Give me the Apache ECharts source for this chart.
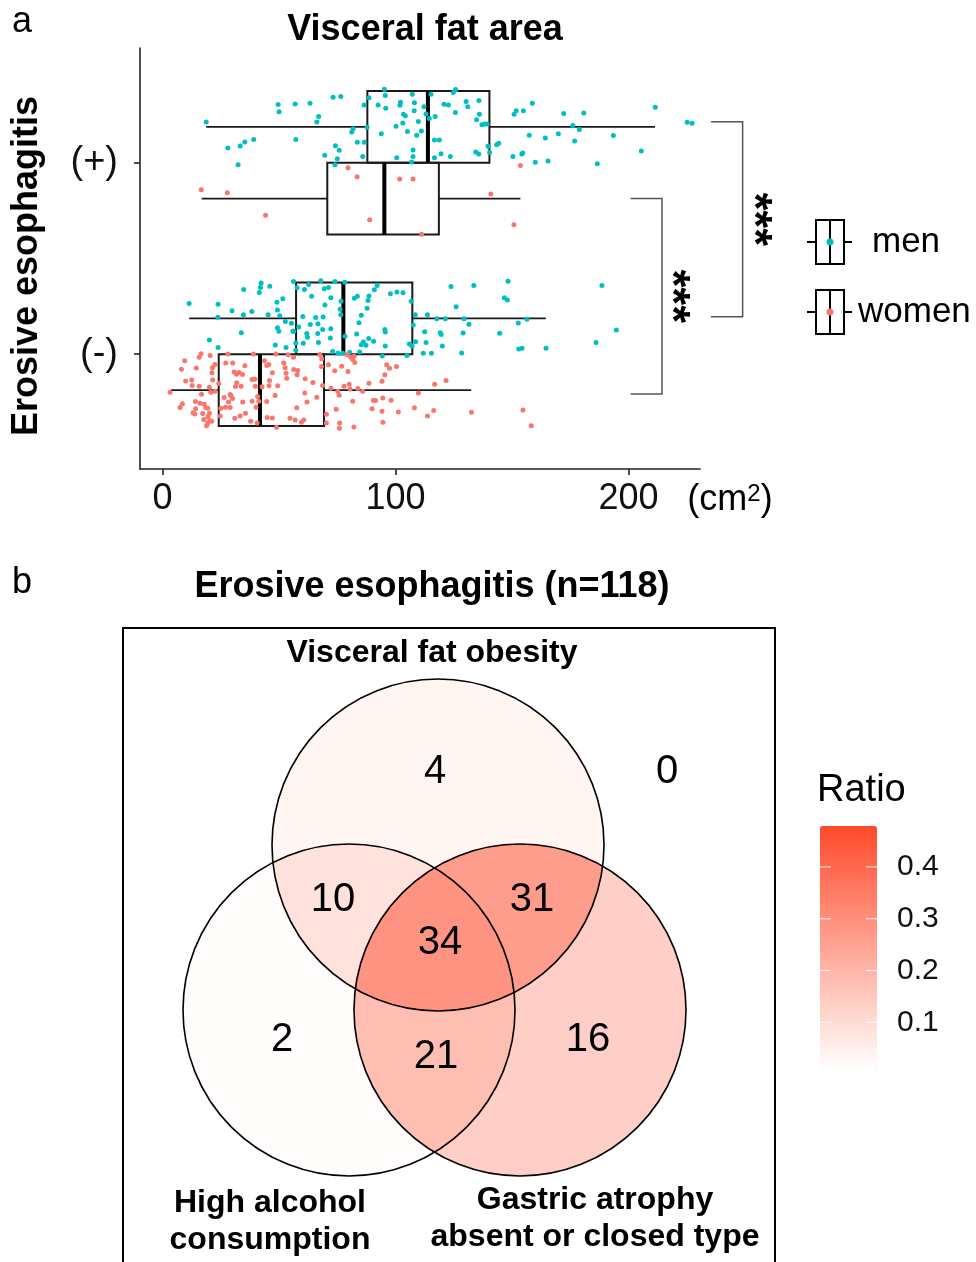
<!DOCTYPE html>
<html>
<head>
<meta charset="utf-8">
<script src="https://cdn.jsdelivr.net/npm/echarts@6/dist/echarts.min.js"></script>
<style>
  html, body { margin: 0; padding: 0; background: #fff; }
  #chart { width: 976px; height: 1262px; }
</style>
</head>
<body>
<div id="chart"></div>
<script>
const FONT = 'Liberation Sans, Arial, sans-serif';
const MEN_COLOR = '#00BFC4';
const WOMEN_COLOR = '#F8766D';

// ---- 图 a：内脏脂肪面积 ----
const categories = ['(-)', '(+)'];   // y = 1, 2
const catPos = [1, 2];
const dodge = 0.1875;
const xTicks = [0, 100, 200];

// [最小, Q1, 中位数, Q3, 最大]，顺序同 categories
const boxMen = [[11.4, 57.3, 77.6, 107.2, 164.5], [18.7, 87.9, 113.9, 140.3, 211.4]];
const boxWomen = [[3.6, 24.1, 41.8, 69.3, 132.5], [16.8, 70.7, 95.2, 118.6, 153.6]];

// 散点 [值, 抖动]
const menPos = [[18.7,0.026],[28.0,-0.110],[33.3,-0.099],[35.3,-0.079],[39.1,-0.065],[32.4,-0.197],[49.6,0.117],[50.0,0.079],[56.9,0.120],[63.3,0.124],[57.2,-0.065],[73.2,0.155],[76.5,0.159],[67.0,0.054],[66.2,0.026],[81.8,-0.009],[81.2,-0.026],[74.2,-0.098],[75.8,-0.122],[69.6,-0.148],[75.0,-0.166],[74.0,-0.197],[83.6,-0.080],[86.6,-0.080],[85.9,-0.154],[86.5,0.115],[88.6,0.153],[87.8,-0.002],[95.2,0.197],[95.6,0.164],[92.5,0.115],[95.8,0.098],[102.1,0.129],[101.9,0.113],[107.2,0.171],[108.1,0.126],[112.2,0.105],[108.0,0.084],[103.4,0.066],[104.2,0.058],[103.1,0.021],[100.2,0.004],[109.8,0.028],[111.1,-0.021],[105.1,-0.024],[109.1,-0.044],[93.9,-0.035],[107.5,-0.120],[107.5,-0.155],[106.9,-0.183],[100.5,-0.161],[113.1,0.068],[114.5,0.044],[117.0,0.054],[115.2,0.171],[120.8,0.119],[122.7,0.115],[116.7,-0.068],[118.8,-0.068],[119.5,-0.140],[116.7,-0.161],[124.8,0.180],[125.8,0.195],[130.3,0.133],[131.0,0.106],[135.8,0.138],[125.7,0.075],[136.0,0.066],[134.8,0.037],[137.1,0.012],[138.1,0.016],[139.3,0.016],[134.4,-0.131],[135.7,-0.141],[123.5,-0.155],[139.7,-0.101],[140.4,-0.133],[143.4,-0.093],[144.3,-0.085],[150.4,-0.154],[154.2,-0.141],[154.6,-0.136],[150.9,0.066],[151.8,0.084],[154.9,0.084],[158.7,0.124],[157.4,-0.044],[164.3,-0.058],[160.0,-0.185],[165.5,-0.178],[169.9,-0.035],[172.2,0.070],[176.1,0.007],[178.9,-0.014],[176.9,-0.073],[180.8,0.073],[186.6,-0.192],[193.5,-0.045],[205.5,-0.126],[211.5,0.103],[225.2,0.025],[227.3,0.019]];
const womenPos = [[16.6,0.047],[27.8,0.031],[44.2,-0.086],[79.6,0.162],[83.5,0.115],[88.9,-0.110],[101.8,0.103],[107.5,0.103],[111.2,-0.186],[140.9,0.025],[150.8,-0.136],[153.6,0.173]];
const menNeg = [[11.4,0.077],[23.8,0.073],[23.7,0.005],[29.8,0.039],[34.8,0.150],[34.7,0.019],[38.3,0.035],[41.5,0.135],[42.0,0.161],[42.3,0.185],[46.0,0.168],[45.3,0.018],[49.1,0.084],[49.3,0.044],[50.3,0.013],[51.6,0.102],[52.7,-0.017],[55.3,-0.026],[55.9,-0.068],[56.3,-0.068],[49.3,-0.050],[49.9,-0.068],[33.8,-0.075],[20.1,-0.113],[23.8,-0.152],[48.4,-0.139],[53.0,-0.153],[57.2,-0.129],[57.2,-0.167],[56.2,0.192],[57.7,0.159],[60.9,0.150],[62.7,0.176],[64.0,0.115],[67.9,0.196],[69.4,0.154],[71.2,0.161],[72.2,0.108],[69.7,0.070],[74.0,0.192],[76.6,0.089],[76.2,0.047],[76.5,0.018],[60.2,0.010],[65.7,0.004],[68.9,0.007],[58.4,-0.045],[63.4,-0.033],[66.7,-0.028],[61.9,-0.080],[62.2,-0.099],[66.6,-0.080],[68.7,-0.058],[72.2,-0.054],[60.4,-0.131],[66.9,-0.127],[72.0,-0.103],[73.0,-0.174],[75.3,-0.183],[77.3,-0.183],[78.2,0.188],[78.3,-0.094],[80.3,-0.178],[84.6,-0.176],[82.3,0.105],[83.6,0.115],[88.6,0.117],[88.2,0.093],[90.9,0.149],[92.1,0.171],[87.8,0.052],[85.3,0.016],[84.3,-0.023],[83.3,-0.082],[86.2,-0.124],[85.3,-0.138],[88.5,-0.106],[90.6,-0.120],[87.3,-0.141],[95.4,-0.059],[95.6,-0.071],[95.6,-0.145],[94.3,-0.197],[97.8,0.128],[100.6,0.138],[103.2,0.133],[105.9,-0.134],[106.7,0.089],[107.6,-0.035],[107.1,-0.145],[104.9,-0.195],[108.5,0.019],[113.7,0.019],[108.6,-0.122],[112.5,-0.070],[113.1,-0.126],[111.9,-0.183],[115.4,-0.183],[117.7,-0.002],[121.4,-0.002],[119.2,-0.075],[119.6,-0.085],[120.1,-0.145],[123.8,0.166],[126.0,0.061],[133.6,0.171],[129.4,-0.002],[131.5,-0.031],[129.0,-0.077],[128.4,-0.181],[148.3,0.194],[146.7,0.107],[148.0,0.096],[144.7,-0.078],[152.7,-0.024],[156.4,-0.005],[152.9,-0.160],[154.3,-0.157],[164.6,-0.157],[186.1,-0.127],[188.6,0.171],[194.8,-0.061]];
const womenNeg = [[9.5,0.153],[15.7,0.172],[16.5,0.190],[20.4,0.181],[8.1,0.109],[14.5,0.115],[21.4,0.116],[22.5,0.134],[21.2,0.090],[21.5,0.052],[9.9,0.048],[12.5,0.053],[12.7,0.024],[15.7,0.020],[20.1,0.015],[3.2,-0.011],[16.7,-0.022],[20.7,-0.011],[22.5,-0.006],[8.5,-0.072],[7.5,-0.091],[14.1,-0.060],[14.2,-0.098],[13.1,-0.119],[13.8,-0.125],[16.1,-0.069],[17.9,-0.074],[18.5,-0.091],[19.4,-0.095],[17.2,-0.123],[20.1,-0.121],[19.5,-0.140],[17.7,-0.154],[20.4,-0.161],[19.4,-0.172],[18.9,-0.186],[21.1,-0.163],[24.1,0.034],[24.7,-0.135],[25.0,-0.095],[28.0,0.188],[27.1,0.141],[30.1,0.142],[35.3,0.127],[30.7,0.095],[31.7,0.083],[34.3,0.081],[32.8,0.092],[31.8,0.038],[33.7,0.020],[31.3,0.019],[38.4,0.055],[39.6,0.057],[39.8,0.020],[26.4,-0.039],[29.0,-0.023],[29.4,-0.030],[28.3,-0.063],[30.0,-0.044],[27.0,-0.090],[29.0,-0.091],[34.4,-0.063],[38.4,-0.058],[40.8,-0.034],[41.3,-0.058],[40.1,-0.090],[31.0,-0.147],[33.3,-0.135],[35.6,-0.121],[37.8,-0.163],[40.6,-0.172],[39.0,0.188],[43.7,0.153],[44.7,0.128],[45.6,0.134],[47.1,0.090],[45.9,0.050],[45.7,0.022],[42.7,0.017],[49.4,0.022],[48.3,-0.029],[44.7,-0.060],[44.9,-0.144],[47.1,-0.146],[48.9,-0.194],[48.7,0.188],[53.9,0.184],[56.2,0.172],[52.0,0.141],[52.6,0.116],[53.0,0.088],[53.3,0.062],[56.3,0.108],[58.0,0.102],[57.7,0.080],[61.2,0.059],[64.5,0.039],[68.3,0.163],[68.2,0.123],[68.7,0.024],[66.2,-0.037],[62.0,-0.063],[61.0,-0.016],[57.6,-0.093],[54.7,-0.147],[56.9,-0.156],[59.6,-0.168],[60.6,-0.156],[67.5,0.186],[71.2,0.132],[70.3,-0.126],[70.3,-0.172],[79.3,0.184],[80.8,0.172],[81.6,0.160],[82.5,0.144],[82.2,0.177],[76.9,0.125],[73.9,0.101],[79.6,0.097],[72.3,0.010],[75.2,-0.008],[75.8,-0.027],[77.9,0.020],[80.1,0.031],[80.5,0.006],[83.8,0.008],[85.9,-0.006],[88.6,0.036],[81.6,-0.058],[90.5,-0.055],[91.4,-0.055],[94.5,-0.041],[98.1,-0.053],[74.5,-0.100],[89.9,-0.098],[94.2,-0.111],[101.2,-0.114],[76.0,-0.172],[75.9,-0.200],[82.1,-0.193],[94.6,-0.168],[96.2,0.132],[97.4,0.114],[100.4,0.123],[95.4,0.080],[94.2,0.046],[116.8,0.031],[121.7,0.050],[109.8,-0.016],[108.1,-0.093],[113.7,-0.135],[116.4,-0.107],[132.6,-0.116],[154.7,-0.104],[158.3,-0.187]];

// 显著性括号 [x起, x止, y上, y下, 星号x]
const sigBrackets = [[200.9, 214.4, 1.813, 0.792, 218.0], [235.4, 249.0, 2.215, 1.195, 253.5]];
const sigLabels = ['***', '***'];

// ---- 图 b：维恩图 ----
const vennSetNames = ['Visceral fat obesity', 'High alcohol\nconsumption', 'Gastric atrophy\nabsent or closed type'];
const vennRegions = [[0], [1], [2], [0, 1], [0, 2], [1, 2], [0, 1, 2]];
const vennCounts = [4, 2, 16, 10, 31, 21, 34];
const vennOutside = 0;
const vennTotal = 118;
const ratioTicks = [0.1, 0.2, 0.3, 0.4];
const ratioRange = [0.008, 0.479];

// 维恩图版式（像素）
const vennCircles = [
  { cx: 438, cy: 845, r: 166 },
  { cx: 349, cy: 1010, r: 166 },
  { cx: 520, cy: 1010, r: 166 }
];
const vennLabelPos = [[435, 772], [282, 1040], [588, 1040], [333, 900], [532, 900], [436, 1057], [440, 943]];
const vennOutsidePos = [667, 772];
const cbar = { x: 820, y: 826, w: 57, h: 244 };

const circlePoints = (c, n) => {
  const pts = [];
  for (let k = 0; k < n; k++) {
    const a = (k / n) * Math.PI * 2;
    pts.push([c.cx + c.r * Math.cos(a), c.cy + c.r * Math.sin(a)]);
  }
  return pts;
};
const insideCircle = (p, c) => (p[0] - c.cx) ** 2 + (p[1] - c.cy) ** 2 <= c.r * c.r + 0.01;

// 求若干圆的交集（凸）多边形
const regionPolygon = (sets) => {
  if (sets.length === 1) return circlePoints(vennCircles[sets[0]], 720);
  const pts = [];
  sets.forEach((i) => {
    circlePoints(vennCircles[i], 1440).forEach((p) => {
      if (sets.every((j) => j === i || insideCircle(p, vennCircles[j]))) pts.push(p);
    });
  });
  let mx = 0, my = 0;
  pts.forEach((p) => { mx += p[0]; my += p[1]; });
  mx /= pts.length; my /= pts.length;
  pts.sort((a, b) => Math.atan2(a[1] - my, a[0] - mx) - Math.atan2(b[1] - my, b[0] - mx));
  return pts;
};

const renderBox = (params, api) => {
  const y = api.value(0);
  const pLo = api.coord([api.value(1), y]);
  const pTop = api.coord([api.value(2), y + dodge]);
  const pMed = api.coord([api.value(3), y]);
  const pBot = api.coord([api.value(4), y - dodge]);
  const pHi = api.coord([api.value(5), y]);
  const ls = { stroke: '#1a1a1a', lineWidth: 1.8 };
  return {
    type: 'group',
    children: [
      { type: 'line', shape: { x1: pLo[0], y1: pLo[1], x2: pTop[0], y2: pLo[1] }, style: ls },
      { type: 'line', shape: { x1: pBot[0], y1: pLo[1], x2: pHi[0], y2: pLo[1] }, style: ls },
      { type: 'rect', shape: { x: pTop[0], y: pTop[1], width: pBot[0] - pTop[0], height: pBot[1] - pTop[1] },
        style: { fill: 'none', stroke: '#1a1a1a', lineWidth: 2 } },
      { type: 'line', shape: { x1: pMed[0], y1: pTop[1], x2: pMed[0], y2: pBot[1] },
        style: { stroke: '#000', lineWidth: 4 } }
    ]
  };
};

const renderSig = (params, api) => {
  const a = api.coord([api.value(0), api.value(2)]);
  const b = api.coord([api.value(1), api.value(3)]);
  const t = api.coord([api.value(4), (api.value(2) + api.value(3)) / 2]);
  return {
    type: 'group',
    children: [
      { type: 'polyline', shape: { points: [[a[0], a[1]], [b[0], a[1]], [b[0], b[1]], [a[0], b[1]]] },
        style: { fill: 'none', stroke: '#555', lineWidth: 1.5 } },
      { type: 'text', x: t[0], y: t[1], rotation: -Math.PI / 2,
        style: { text: sigLabels[params.dataIndex], fontSize: 46, fontWeight: 'bold', fontFamily: FONT,
          fill: '#000', align: 'center', verticalAlign: 'middle' } }
    ]
  };
};

const renderVenn = (params, api) => {
  const sets = vennRegions[api.value(0)];
  return {
    type: 'polygon',
    z2: sets.length,
    shape: { points: regionPolygon(sets) },
    style: { fill: api.visual('color'), stroke: api.visual('color'), lineWidth: 0.5 }
  };
};

const toPoints = (list, y) => list.map((d) => [d[0], y + d[1]]);

const txt = (text, x, y, size, opts = {}) => ({
  type: 'text', x, y, z: 20,
  rotation: opts.rotation || 0,
  style: {
    text, fontSize: size, fontFamily: FONT, fontWeight: opts.bold ? 'bold' : 'normal',
    fill: opts.color || '#000', align: opts.align || 'center', verticalAlign: 'middle',
    lineHeight: opts.lineHeight, rich: opts.rich
  }
});

const graphics = [];
graphics.push(txt('a', 22, 22, 36));
graphics.push(txt('Visceral fat area', 425, 30, 36, { bold: true }));
graphics.push(txt('Erosive esophagitis', 27, 266, 36, { bold: true, rotation: Math.PI / 2 }));
graphics.push(txt('{a|(cm}{s|2}{a|)}', 730, 500, 36, {
  rich: { a: { fontSize: 36, fontFamily: FONT, verticalAlign: 'bottom' }, s: { fontSize: 24, fontFamily: FONT, verticalAlign: 'top' } }
}));

// 图例
[[242, MEN_COLOR, 'men', 872], [312, WOMEN_COLOR, 'women', 858]].forEach(([y, color, name, tx]) => {
  graphics.push({
    type: 'group', z: 20,
    children: [
      { type: 'line', shape: { x1: 807, y1: y, x2: 852, y2: y }, style: { stroke: '#000', lineWidth: 2 } },
      { type: 'rect', shape: { x: 816, y: y - 22, width: 28, height: 44 }, style: { fill: '#fff', stroke: '#000', lineWidth: 2 } },
      { type: 'line', shape: { x1: 830, y1: y - 22, x2: 830, y2: y + 22 }, style: { stroke: '#000', lineWidth: 2 } },
      { type: 'circle', shape: { cx: 830, cy: y, r: 3.5 }, style: { fill: color } }
    ]
  });
  graphics.push(txt(name, tx, y, 35, { align: 'left' }));
});

graphics.push(txt('b', 22, 583, 36));
graphics.push(txt('Erosive esophagitis (n=' + vennTotal + ')', 432, 587, 36, { bold: true }));
graphics.push({ type: 'rect', z: 20, shape: { x: 123, y: 628, width: 652, height: 700 },
  style: { fill: 'none', stroke: '#000', lineWidth: 2 } });
graphics.push(txt(vennSetNames[0], 432, 653, 32, { bold: true }));
graphics.push(txt(vennSetNames[1], 270, 1222, 32, { bold: true, lineHeight: 37 }));
graphics.push(txt(vennSetNames[2], 595, 1219, 32, { bold: true, lineHeight: 37 }));

vennCircles.forEach((c) => {
  graphics.push({ type: 'circle', z: 15, shape: { cx: c.cx, cy: c.cy, r: c.r },
    style: { fill: 'none', stroke: '#000', lineWidth: 1.6 } });
});
vennCounts.forEach((n, i) => {
  graphics.push(txt(String(n), vennLabelPos[i][0], vennLabelPos[i][1], 40));
});
graphics.push(txt(String(vennOutside), vennOutsidePos[0], vennOutsidePos[1], 40));

// 色条刻度与标签
graphics.push(txt('Ratio', 817, 791, 38, { align: 'left' }));
ratioTicks.forEach((v) => {
  const y = cbar.y + (ratioRange[1] - v) / (ratioRange[1] - ratioRange[0]) * cbar.h;
  graphics.push({ type: 'line', z: 20, shape: { x1: cbar.x, y1: y, x2: cbar.x + 11, y2: y }, style: { stroke: '#fff', lineWidth: 1.2, opacity: 0.8 } });
  graphics.push({ type: 'line', z: 20, shape: { x1: cbar.x + cbar.w - 11, y1: y, x2: cbar.x + cbar.w, y2: y }, style: { stroke: '#fff', lineWidth: 1.2, opacity: 0.8 } });
  graphics.push(txt(v.toFixed(1), 897, y, 30, { align: 'left', color: '#111' }));
});

const axisStyle = { color: '#222', width: 1.6 };

const option = {
  animation: false,
  backgroundColor: '#fff',
  grid: { left: 140, top: 48, width: 560, height: 421, containLabel: false, outerBoundsMode: 'none' },
  xAxis: {
    type: 'value', min: -9.7, max: 230.7,
    axisLine: { show: true, onZero: false, lineStyle: axisStyle },
    axisTick: { show: true, customValues: xTicks, length: 6, lineStyle: axisStyle },
    axisLabel: { customValues: xTicks, fontSize: 36, fontFamily: FONT, color: '#111', margin: 12 },
    splitLine: { show: false }
  },
  yAxis: {
    type: 'value', min: 0.4, max: 2.6,
    axisLine: { show: true, onZero: false, lineStyle: axisStyle },
    axisTick: { show: true, customValues: catPos, length: 6, lineStyle: axisStyle },
    axisLabel: {
      customValues: catPos, fontSize: 38, fontFamily: FONT, color: '#111', margin: 22,
      formatter: (v) => categories[Math.round(v) - 1]
    },
    splitLine: { show: false }
  },
  visualMap: {
    type: 'continuous', seriesIndex: 5, dimension: 2,
    min: ratioRange[0], max: ratioRange[1],
    inRange: { color: ['#ffffff', '#ff4a2b'] },
    orient: 'vertical', left: cbar.x, top: cbar.y, itemWidth: cbar.w, itemHeight: cbar.h,
    padding: 0, calculable: false, text: null, hoverLink: false
  },
  graphic: { elements: graphics },
  series: [
    {
      type: 'custom', name: 'men', z: 2, renderItem: renderBox,
      encode: { x: [1, 2, 3, 4, 5], y: 0 },
      data: boxMen.map((b, i) => [catPos[i] + dodge, ...b])
    },
    {
      type: 'custom', name: 'women', z: 2, renderItem: renderBox,
      encode: { x: [1, 2, 3, 4, 5], y: 0 },
      data: boxWomen.map((b, i) => [catPos[i] - dodge, ...b])
    },
    {
      type: 'scatter', name: 'men', z: 3, symbolSize: 5,
      itemStyle: { color: MEN_COLOR, opacity: 1 },
      data: toPoints(menNeg, catPos[0] + dodge).concat(toPoints(menPos, catPos[1] + dodge))
    },
    {
      type: 'scatter', name: 'women', z: 3, symbolSize: 5,
      itemStyle: { color: WOMEN_COLOR, opacity: 1 },
      data: toPoints(womenNeg, catPos[0] - dodge).concat(toPoints(womenPos, catPos[1] - dodge))
    },
    {
      type: 'custom', name: 'sig', z: 4, renderItem: renderSig, clip: false,
      encode: { x: [0, 1, 4], y: [2, 3] },
      data: sigBrackets
    },
    {
      type: 'custom', name: 'venn', coordinateSystem: 'none', z: 1, renderItem: renderVenn,
      data: vennRegions.map((s, i) => [i, vennCounts[i], vennCounts[i] / vennTotal])
    }
  ]
};

const chart = echarts.init(document.getElementById('chart'));
chart.setOption(option);
window.addEventListener('resize', () => chart.resize());
</script>
</body>
</html>
